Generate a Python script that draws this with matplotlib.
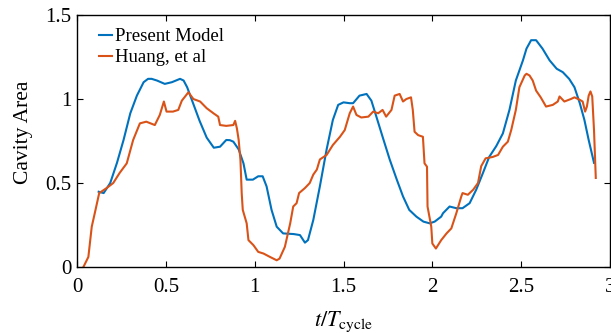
import numpy as np
import matplotlib
matplotlib.use("Agg")
import matplotlib.pyplot as plt

plt.rcParams['font.family'] = ['Liberation Serif', 'DejaVu Serif']
plt.rcParams['mathtext.fontset'] = 'stix'

# cavity area vs normalised time, present model
model_t = [0.122, 0.15, 0.187, 0.225, 0.262, 0.30, 0.337, 0.375, 0.40, 0.42, 0.45, 0.494,
           0.534, 0.58, 0.60, 0.62, 0.655, 0.69, 0.73, 0.77, 0.805, 0.84, 0.86, 0.88, 0.91,
           0.937, 0.955, 0.99, 1.02, 1.045, 1.067, 1.095, 1.124, 1.16, 1.22, 1.255, 1.283,
           1.30, 1.33, 1.367, 1.405, 1.44, 1.47, 1.50, 1.535, 1.554, 1.59, 1.63, 1.657,
           1.685, 1.72, 1.76, 1.80, 1.835, 1.87, 1.91, 1.95, 1.985, 2.013, 2.05, 2.06,
           2.097, 2.135, 2.17, 2.21, 2.247, 2.285, 2.32, 2.36, 2.397, 2.434, 2.47, 2.51,
           2.53, 2.556, 2.584, 2.62, 2.66, 2.70, 2.734, 2.77, 2.80, 2.83, 2.856, 2.88, 2.91]
model_area = [0.448, 0.44, 0.50, 0.62, 0.756, 0.915, 1.02, 1.10, 1.12, 1.12, 1.11, 1.09,
              1.10, 1.12, 1.11, 1.07, 0.97, 0.87, 0.77, 0.71, 0.716, 0.756, 0.755, 0.746, 0.70,
              0.617, 0.52, 0.52, 0.54, 0.54, 0.48, 0.34, 0.24, 0.20, 0.196, 0.19, 0.145,
              0.16, 0.28, 0.48, 0.70, 0.875, 0.965, 0.98, 0.975, 0.975, 1.02, 1.03, 0.99,
              0.895, 0.775, 0.64, 0.52, 0.42, 0.34, 0.30, 0.27, 0.26, 0.27, 0.30, 0.32,
              0.36, 0.35, 0.35, 0.38, 0.46, 0.56, 0.655, 0.72, 0.795, 0.935, 1.11, 1.23,
              1.30, 1.35, 1.35, 1.30, 1.23, 1.18, 1.16, 1.12, 1.07, 0.975, 0.875, 0.756, 0.62]

# Huang et al. reference data
huang_t = [0.036, 0.064, 0.083, 0.10, 0.125, 0.167, 0.204, 0.24, 0.28, 0.316, 0.354, 0.39,
           0.438, 0.466, 0.489, 0.504, 0.54, 0.57, 0.59, 0.627, 0.655, 0.693, 0.73, 0.768,
           0.795, 0.805, 0.84, 0.88, 0.89, 0.90, 0.91, 0.92, 0.927, 0.933, 0.955, 0.965,
           0.993, 1.02, 1.05, 1.086, 1.124, 1.14, 1.17, 1.20, 1.217, 1.236, 1.25, 1.283,
           1.31, 1.33, 1.35, 1.367, 1.405, 1.44, 1.48, 1.507, 1.535, 1.554, 1.573, 1.60,
           1.64, 1.667, 1.695, 1.72, 1.74, 1.77, 1.788, 1.816, 1.835, 1.854, 1.88, 1.89,
           1.90, 1.92, 1.947, 1.956, 1.97, 1.973, 1.994, 2.00, 2.02, 2.05, 2.08, 2.107,
           2.135, 2.163, 2.17, 2.20, 2.23, 2.257, 2.275, 2.30, 2.34, 2.37, 2.397, 2.425,
           2.444, 2.47, 2.49, 2.52, 2.53, 2.547, 2.565, 2.584, 2.61, 2.64, 2.678, 2.706,
           2.716, 2.743, 2.78, 2.80, 2.83, 2.846, 2.86, 2.87, 2.88, 2.89, 2.90, 2.91, 2.92]
huang_area = [0.0, 0.06, 0.24, 0.32, 0.44, 0.47, 0.50, 0.56, 0.617, 0.756, 0.855, 0.865,
              0.845, 0.905, 0.985, 0.925, 0.925, 0.935, 0.99, 1.04, 1.00, 0.985, 0.945, 0.915,
              0.895, 0.845, 0.84, 0.845, 0.87, 0.825, 0.756, 0.637, 0.44, 0.34, 0.26, 0.16,
              0.13, 0.09, 0.08, 0.06, 0.04, 0.05, 0.12, 0.26, 0.36, 0.38, 0.44, 0.47,
              0.50, 0.55, 0.58, 0.64, 0.667, 0.726, 0.775, 0.815, 0.915, 0.955, 0.905, 0.89,
              0.895, 0.925, 0.915, 0.935, 0.895, 0.935, 1.02, 1.03, 0.985, 1.00, 1.01, 0.935,
              0.805, 0.785, 0.775, 0.617, 0.597, 0.36, 0.24, 0.14, 0.11, 0.16, 0.20, 0.23,
              0.32, 0.42, 0.44, 0.43, 0.46, 0.50, 0.60, 0.647, 0.655, 0.667, 0.716, 0.746,
              0.815, 0.935, 1.07, 1.14, 1.15, 1.14, 1.11, 1.05, 1.01, 0.955, 0.965, 0.985,
              1.015, 0.985, 1.00, 1.01, 0.995, 0.985, 0.925, 0.955, 1.02, 1.045, 1.015, 0.815, 0.53]

x_ticks = [0, 0.5, 1, 1.5, 2, 2.5, 3]
x_ticklabels = ['0', '0.5', '1', '1.5', '2', '2.5', '3']
y_ticks = [0, 0.5, 1, 1.5]
y_ticklabels = ['0', '0.5', '1', '1.5']

fig = plt.figure(figsize=(6.11, 3.33), dpi=100)
ax = fig.add_axes([77 / 611, 66 / 333, 533 / 611, 252 / 333])

ax.plot(model_t, model_area, color='#0072BD', lw=1.5, label='Present Model')
ax.plot(huang_t, huang_area, color='#D95319', lw=1.5, label='Huang, et al')

ax.set_xlim(0, 3)
ax.set_ylim(0, 1.5)
ax.set_xticks(x_ticks)
ax.set_xticklabels(x_ticklabels)
ax.set_yticks(y_ticks)
ax.set_yticklabels(y_ticklabels)
ax.tick_params(direction='in', top=True, right=True, length=4, width=0.8,
               labelsize=15, colors='black')
ax.tick_params(axis='x', pad=8)
ax.tick_params(axis='y', pad=4)
for s in ax.spines.values():
    s.set_linewidth(1.0)

ax.set_ylabel('Cavity Area', fontsize=15.5)
ax.yaxis.set_label_coords(-0.082, 0.535)
ax.set_xlabel(r'$t/T_{\mathrm{cycle}}$', fontsize=16, labelpad=9)

ax.legend(loc='upper left', bbox_to_anchor=(0.017, 1.0), frameon=False, fontsize=13.5,
          handlelength=0.7, handletextpad=0.15, labelspacing=0.2, borderaxespad=0.3)

fig.savefig('out.png', dpi=100)
